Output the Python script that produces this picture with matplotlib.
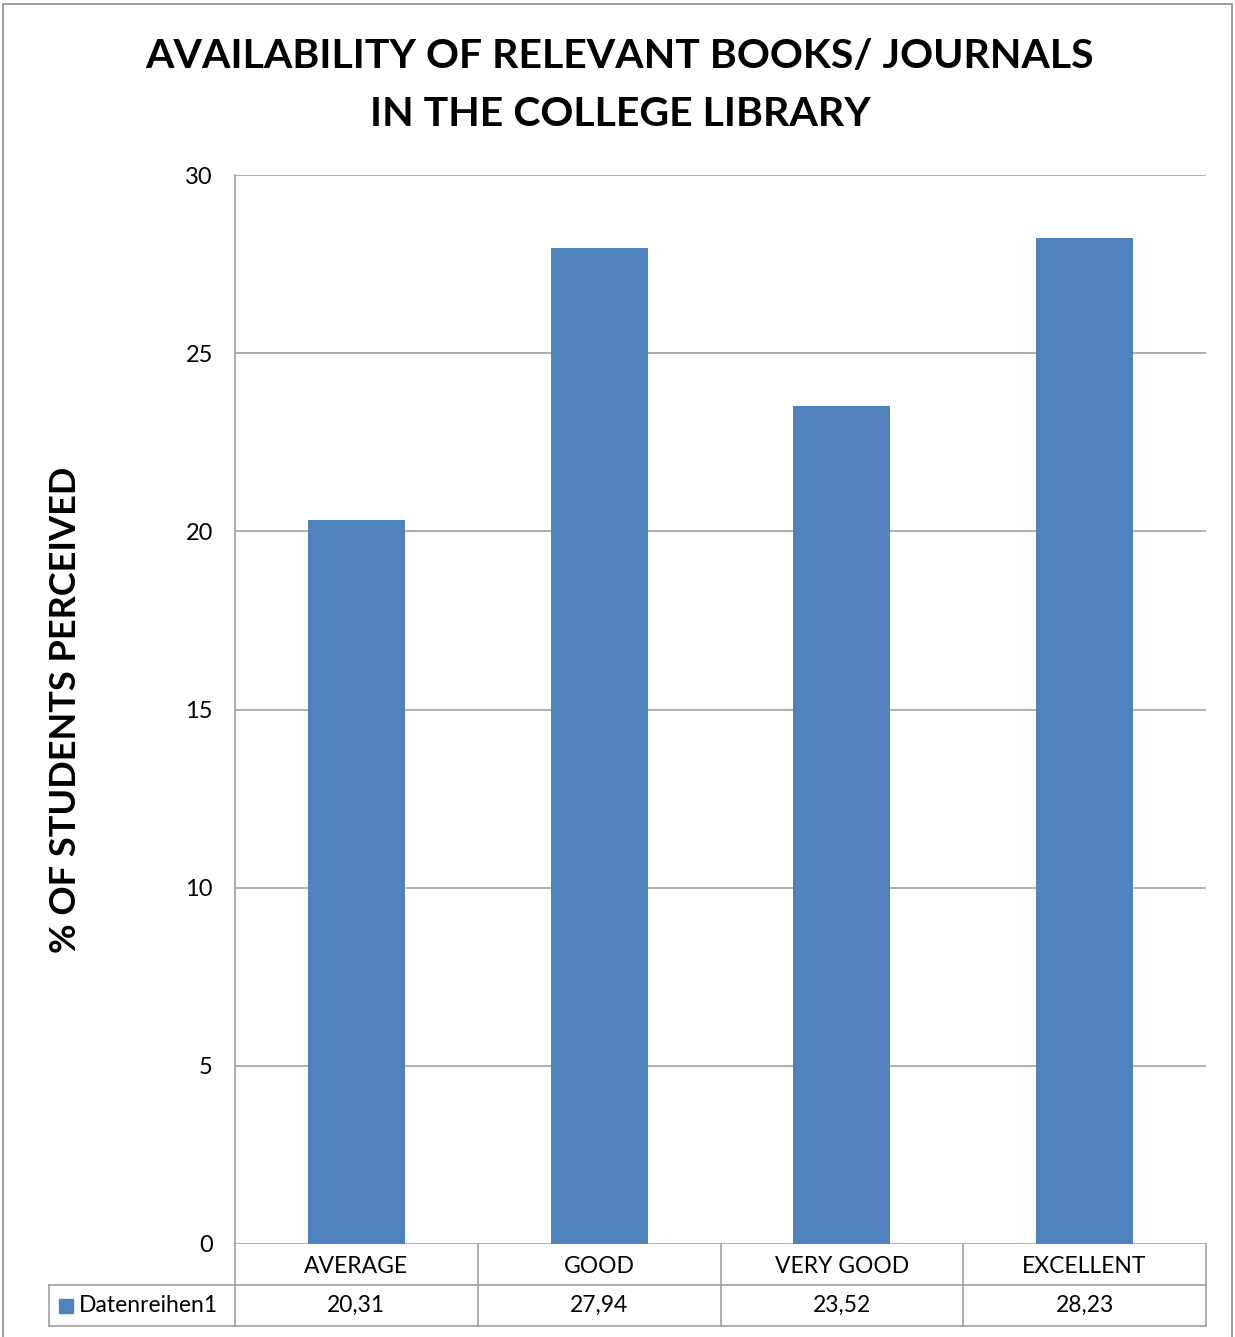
import numpy as np
import matplotlib.pyplot as plt
from matplotlib.transforms import blended_transform_factory
from matplotlib.patches import Rectangle

plt.rcParams['font.family'] = ['Lato', 'DejaVu Sans']

# datos del grafico
categorias = ['AVERAGE', 'GOOD', 'VERY GOOD', 'EXCELLENT']
valores = [20.31, 27.94, 23.52, 28.23]
serie = 'Datenreihen1'
yticks = [0, 5, 10, 15, 20, 25, 30]
titulo = ['AVAILABILITY OF RELEVANT BOOKS/ JOURNALS', 'IN THE COLLEGE LIBRARY']
ylabel = '% OF STUDENTS PERCEIVED'

W, H = 1235, 1337
color_barra = '#4F81BD'
gris = '#A0A0A0'

fig = plt.figure(figsize=(W / 100, H / 100), dpi=100)
fig.patches.append(Rectangle((3 / W, -0.01), 1229 / W, 1 - 4 / H + 0.01,
                             transform=fig.transFigure, fill=False,
                             edgecolor='#8C8C8C', linewidth=1.2))

ax = fig.add_axes([235 / W, 1 - 1244 / H, 971 / W, (1244 - 175) / H])
x = np.arange(len(categorias))
ax.bar(x, valores, width=0.4, color=color_barra, zorder=3)
ax.set_xlim(-0.5, len(categorias) - 0.5)
ax.set_ylim(0, 30)
ax.set_yticks(yticks)
ax.set_yticklabels([str(t) for t in yticks], fontsize=17)
ax.set_xticks([])
ax.tick_params(axis='y', length=0, pad=16)
ax.grid(axis='y', color=gris, linewidth=1.2, zorder=0)
for lado in ['top', 'right', 'bottom']:
    ax.spines[lado].set_visible(False)
ax.spines['left'].set_color(gris)
ax.spines['left'].set_linewidth(1.2)

# titulo en dos lineas
for yy, linea in zip([57, 114], titulo):
    fig.text(620 / W, 1 - yy / H, linea, ha='center', va='center',
             fontsize=29.5, fontweight='bold')
fig.text(66 / W, 1 - 710 / H, ylabel, ha='center', va='center',
         rotation=90, fontsize=26, fontweight='bold')

# tabla de datos bajo el eje
h = 41 / 1069
tr = blended_transform_factory(ax.transData, ax.transAxes)
izq = (49 - 235) / 971
kw = dict(color=gris, linewidth=1.2, clip_on=False)
for xi in np.arange(len(categorias) + 1) - 0.5:
    ax.plot([xi, xi], [0, -2 * h], transform=tr, **kw)
ax.plot([-0.5, len(categorias) - 0.5], [-h, -h], transform=tr, **kw)
ax.plot([izq, 1], [-2 * h, -2 * h], transform=ax.transAxes, **kw)
ax.plot([izq, 0], [-h, -h], transform=ax.transAxes, **kw)
ax.plot([izq, izq], [-h, -2 * h], transform=ax.transAxes, **kw)

for xi, cat, v in zip(x, categorias, valores):
    ax.text(xi, -0.55 * h, cat, transform=tr, ha='center', va='center', fontsize=16.5)
    ax.text(xi, -1.5 * h, f'{v:.2f}'.replace('.', ','), transform=tr,
            ha='center', va='center', fontsize=16.5)

ax.add_patch(Rectangle((izq + 10 / 971, -1.5 * h - 7 / 1069), 14 / 971, 14 / 1069,
                       transform=ax.transAxes, color=color_barra, clip_on=False))
ax.text(izq + 30 / 971, -1.5 * h, serie, transform=ax.transAxes,
        ha='left', va='center', fontsize=16.5)

fig.savefig('out.png', dpi=100)
